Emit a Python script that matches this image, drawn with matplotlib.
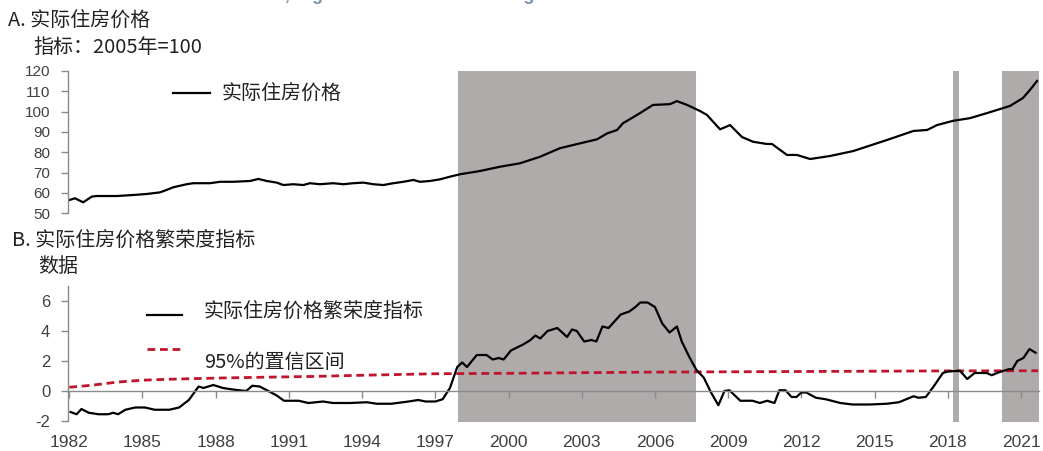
import matplotlib
matplotlib.use("Agg")
import matplotlib.pyplot as plt
from matplotlib.lines import Line2D

plt.rcParams['font.family'] = ['Liberation Sans', 'Noto Sans CJK SC', 'DejaVu Sans']
plt.rcParams['axes.unicode_minus'] = False
CJK = ['Noto Sans CJK SC', 'DejaVu Sans']

# ---------------- data ----------------
price_years = [1982.0, 1982.23, 1982.57, 1982.92, 1983.12, 1983.94, 1984.62, 1985.17,
               1985.72, 1985.99, 1986.26, 1986.81, 1987.08, 1987.77, 1988.18, 1988.72,
               1989.41, 1989.75, 1990.09, 1990.5, 1990.77, 1991.18, 1991.59, 1991.86,
               1992.27, 1992.82, 1993.23, 1993.64, 1994.05, 1994.46, 1994.87, 1995.28,
               1995.69, 1996.1, 1996.37, 1996.78, 1997.19, 1997.6, 1998.01, 1998.83,
               1999.65, 2000.47, 2001.29, 2002.1, 2002.93, 2003.63, 2004.04, 2004.45,
               2004.69, 2005.27, 2005.92, 2006.62, 2006.9, 2007.32, 2007.85, 2008.13,
               2008.67, 2009.08, 2009.57, 2010.02, 2010.59, 2010.8, 2011.41, 2011.82,
               2012.36, 2013.18, 2014.12, 2015.52, 2016.59, 2017.16, 2017.56, 2018.22,
               2018.91, 2019.61, 2020.55, 2021.08, 2021.37, 2021.66]
price_vals = [56.5, 57.4, 55.4, 58.2, 58.5, 58.5, 59.0, 59.5,
              60.3, 61.5, 62.8, 64.3, 64.8, 64.8, 65.5, 65.5,
              65.9, 66.9, 65.9, 65.1, 63.9, 64.3, 63.9, 64.8,
              64.3, 64.8, 64.3, 64.8, 65.1, 64.3, 63.9, 64.8,
              65.5, 66.4, 65.5, 65.9, 66.7, 68.0, 69.2, 70.8,
              72.9, 74.6, 77.8, 82.0, 84.4, 86.4, 89.3, 91.0,
              94.3, 98.4, 103.3, 103.7, 105.2, 103.3, 100.3, 98.4,
              91.3, 93.4, 87.5, 85.2, 84.1, 84.1, 78.7, 78.7,
              76.7, 78.2, 80.6, 86.1, 90.5, 91.0, 93.4, 95.5,
              96.8, 99.3, 102.8, 106.7, 110.7, 115.1]

boom_years = [1982.05, 1982.3, 1982.5, 1982.8, 1983.2, 1983.6, 1983.8, 1984.0, 1984.3,
              1984.7, 1985.1, 1985.5, 1986.1, 1986.5, 1986.9, 1987.3, 1987.5, 1987.9,
              1988.3, 1988.7, 1989.25, 1989.5, 1989.8, 1990.1, 1990.5, 1990.8, 1991.4,
              1991.8, 1992.4, 1992.8, 1993.5, 1994.2, 1994.6, 1995.2, 1995.9, 1996.3,
              1996.6, 1997.0, 1997.3, 1997.6, 1997.9, 1998.1, 1998.3, 1998.7, 1999.1,
              1999.35, 1999.6, 1999.8, 2000.1, 2000.6, 2000.9, 2001.1, 2001.3, 2001.6,
              2002.0, 2002.4, 2002.6, 2002.8, 2003.1, 2003.4, 2003.6, 2003.85, 2004.1,
              2004.6, 2004.95, 2005.2, 2005.4, 2005.7, 2006.0, 2006.3, 2006.6, 2006.9,
              2007.1, 2007.4, 2007.7, 2008.0, 2008.3, 2008.6, 2008.85, 2009.05, 2009.5,
              2010.0, 2010.3, 2010.6, 2010.9, 2011.1, 2011.35, 2011.6, 2011.8, 2012.0,
              2012.2, 2012.6, 2013.0, 2013.6, 2014.1, 2014.8, 2015.5, 2016.0, 2016.6,
              2016.8, 2017.1, 2017.4, 2017.8, 2018.0, 2018.5, 2018.8, 2019.1, 2019.6,
              2019.8, 2020.1, 2020.5, 2020.65, 2020.85, 2021.1, 2021.35, 2021.6]
boom_vals = [-1.4, -1.55, -1.2, -1.45, -1.55, -1.55, -1.45, -1.55, -1.25,
             -1.1, -1.1, -1.25, -1.25, -1.1, -0.6, 0.3, 0.2, 0.4,
             0.2, 0.1, 0.0, 0.35, 0.3, 0.05, -0.3, -0.65, -0.65,
             -0.8, -0.7, -0.8, -0.8, -0.75, -0.85, -0.85, -0.7, -0.6,
             -0.7, -0.7, -0.55, 0.2, 1.6, 1.9, 1.6, 2.4, 2.4,
             2.1, 2.2, 2.1, 2.7, 3.1, 3.4, 3.7, 3.5, 4.0,
             4.2, 3.6, 4.1, 4.0, 3.3, 3.4, 3.3, 4.3, 4.2,
             5.1, 5.3, 5.6, 5.9, 5.9, 5.6, 4.5, 3.9, 4.3,
             3.3, 2.3, 1.4, 0.9, -0.1, -0.95, 0.0, 0.05, -0.65,
             -0.65, -0.8, -0.65, -0.8, 0.05, 0.05, -0.4, -0.4, -0.1,
             -0.1, -0.45, -0.55, -0.8, -0.9, -0.9, -0.85, -0.75, -0.35,
             -0.45, -0.4, 0.25, 1.2, 1.3, 1.35, 0.8, 1.2, 1.2,
             1.05, 1.25, 1.45, 1.45, 2.0, 2.2, 2.8, 2.55]

ci_years = [1982.0, 1982.5, 1983.0, 1983.5, 1984.0, 1985.0, 1986.0, 1987.0, 1988.0,
            1990.0, 1992.0, 1994.0, 1997.0, 2000.0, 2003.0, 2006.0, 2009.0, 2012.0,
            2015.0, 2018.0, 2021.7]
ci_vals = [0.25, 0.32, 0.4, 0.5, 0.6, 0.72, 0.78, 0.82, 0.86,
           0.92, 0.97, 1.05, 1.15, 1.18, 1.22, 1.26, 1.28, 1.3,
           1.32, 1.34, 1.35]

shade_starts = [1997.95, 2018.23, 2020.22]
shade_ends = [2007.7, 2018.48, 2021.74]

xtick_years = [1982, 1985, 1988, 1991, 1994, 1997, 2000, 2003, 2006, 2009, 2012, 2015, 2018, 2021]

price_label = '实际住房价格'
boom_label = '实际住房价格繁荣度指标'
ci_label = '95%的置信区间'

# ---------------- layout ----------------
W, H = 1043, 451
fig = plt.figure(figsize=(W / 100, H / 100), dpi=100)

def fx(px):
    return px / W

def fy(py):
    return 1 - py / H

XL, XR = 68.3, 1039.0
XMIN, XMAX = 1981.96, 2021.74
GRAY = '#8a8a8a'
TXT = '#404040'
SHADE = '#aeabaa'
RED = '#c0142c'

# background shading spanning both panels
bg = fig.add_axes([fx(XL), fy(422), fx(XR - XL), (422 - 71) / H])
bg.set_xlim(XMIN, XMAX)
bg.set_ylim(0, 1)
bg.axis('off')
for s, e in zip(shade_starts, shade_ends):
    bg.axvspan(s, e, color=SHADE, lw=0)

# top panel
ax1 = fig.add_axes([fx(XL), fy(213.3), fx(XR - XL), (213.3 - 71) / H])
ax1.patch.set_alpha(0)
ax1.plot(price_years, price_vals, color='black', lw=1.6, solid_joinstyle='round')
ax1.set_xlim(XMIN, XMAX)
ax1.set_ylim(50, 120)
ax1.set_yticks(range(50, 121, 10))
for sp in ['top', 'right', 'bottom']:
    ax1.spines[sp].set_visible(False)
ax1.spines['left'].set_color(GRAY)
ax1.spines['left'].set_linewidth(1.0)
ax1.tick_params(axis='y', length=5, width=1, color=GRAY, labelcolor=TXT, labelsize=11, pad=8)
ax1.tick_params(axis='x', bottom=False, labelbottom=False)

# bottom panel
ax2 = fig.add_axes([fx(XL), fy(421), fx(XR - XL), (421 - 286) / H])
ax2.patch.set_alpha(0)
ax2.plot(ci_years, ci_vals, color=RED, lw=2.0, linestyle=(0, (2.8, 1.7)))
ax2.plot(boom_years, boom_vals, color='black', lw=1.6, solid_joinstyle='round')
ax2.set_xlim(XMIN, XMAX)
ax2.set_ylim(-2, 7)
ax2.set_yticks([-2, 0, 2, 4, 6])
ax2.set_xticks(xtick_years)
for sp in ['top', 'right']:
    ax2.spines[sp].set_visible(False)
ax2.spines['bottom'].set_position(('data', 0))
ax2.spines['bottom'].set_color(GRAY)
ax2.spines['bottom'].set_linewidth(1.0)
ax2.spines['left'].set_color(GRAY)
ax2.spines['left'].set_linewidth(1.0)
ax2.tick_params(axis='y', length=5, width=1, color=GRAY, labelcolor=TXT, labelsize=12, pad=8)
ax2.tick_params(axis='x', length=5, width=1, color=GRAY, labelcolor=TXT, labelsize=12.5, pad=27)

# titles
fig.text(fx(8), fy(20), 'A. ' + price_label, family=CJK, fontsize=14.4, color='#222222', va='center', ha='left')
fig.text(fx(33), fy(47), '指标：2005年=100', family=CJK, fontsize=14.4, color='#222222', va='center', ha='left')
fig.text(fx(12), fy(240), 'B. ' + boom_label, family=CJK, fontsize=14.4, color='#222222', va='center', ha='left')
fig.text(fx(38), fy(266), '数据', family=CJK, fontsize=14.4, color='#222222', va='center', ha='left')

# partially cut-off heading at the very top (only its lower edge shows)
fig.text(fx(20), fy(0.5), 'A: Real U.S. House Prices Rise, Signs of Exuberance Emerge',
         fontsize=13, fontweight='bold', color='#7b8fb3', va='baseline', ha='left')

# legends (drawn manually to match positions)
fig.add_artist(Line2D([fx(173), fx(210)], [fy(93), fy(93)], color='black', lw=1.6))
fig.text(fx(222), fy(93), price_label, family=CJK, fontsize=14.4, color='#222222', va='center', ha='left')

fig.add_artist(Line2D([fx(147), fx(182)], [fy(315), fy(315)], color='black', lw=1.6))
fig.text(fx(204), fy(311), boom_label, family=CJK, fontsize=14.4, color='#222222', va='center', ha='left')
fig.add_artist(Line2D([fx(147), fx(182)], [fy(349), fy(349)], color=RED, lw=2.0,
                      linestyle=(0, (2.8, 1.7))))
fig.text(fx(204), fy(362), ci_label, family=CJK, fontsize=14.4, color='#222222', va='center', ha='left')

fig.savefig('out.png', dpi=100)
